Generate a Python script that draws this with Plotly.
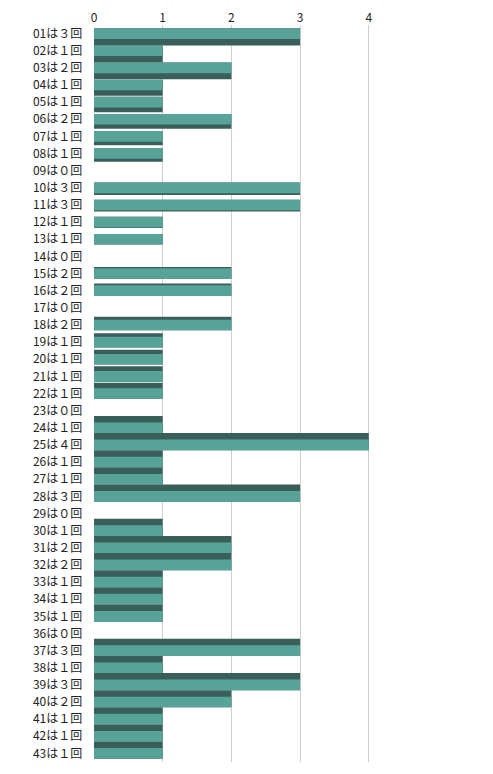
import plotly.graph_objects as go

# dati: numero di estrazioni per numero
numeri = [f'{i:02d}' for i in range(1, 44)]
conteggi = [3, 1, 2, 1, 1, 2, 1, 1, 0, 3,
            3, 1, 1, 0, 2, 2, 0, 2, 1, 1,
            1, 1, 0, 1, 4, 1, 1, 3, 0, 1,
            2, 2, 1, 1, 1, 0, 3, 1, 3, 2,
            1, 1, 1]
tick_vals = [0, 1, 2, 3, 4]

# etichette tipo "01は３回" con cifra a larghezza piena
larga = str.maketrans('0123456789', '０１２３４５６７８９')
etichette = [f'{n}は{str(c).translate(larga)}回' for n, c in zip(numeri, conteggi)]

# finto effetto prospettico: faccia scura sotto in alto, sopra in basso
spessore = 0.62
offs_scuro, larg_scuro = [], []
for i in range(len(conteggi)):
    prof = min(0.38, abs(i - 12) * 0.035)
    if i < 12:
        offs_scuro.append(-spessore / 2)
    else:
        offs_scuro.append(-spessore / 2 - prof)
    larg_scuro.append(spessore + prof)

fig = go.Figure()

# faccia scura (effetto 3D)
fig.add_trace(go.Bar(
    y=etichette, x=conteggi, orientation='h',
    marker=dict(color='#3a5f5b', line=dict(width=0)),
    width=larg_scuro, offset=offs_scuro,
    hoverinfo='skip', showlegend=False
))

# faccia frontale verde acqua
fig.add_trace(go.Bar(
    y=etichette, x=conteggi, orientation='h',
    marker=dict(color='#57a398', line=dict(width=0)),
    width=spessore, offset=-spessore / 2,
    showlegend=False
))

fig.update_layout(
    width=493, height=774,
    margin=dict(l=86, r=12, t=17, b=20),
    paper_bgcolor='white', plot_bgcolor='white',
    barmode='overlay',
    font=dict(family='Noto Sans CJK JP', size=12, color='#222'),
)
fig.update_xaxes(
    side='top', range=[0, 5.75], tickvals=tick_vals, automargin=False,
    showgrid=True, gridcolor='#cfcfcf', gridwidth=1,
    zeroline=False, showline=False, ticks='',
    tickfont=dict(size=12, color='#222')
)
fig.update_yaxes(
    range=[len(etichette) - 0.5, -0.5], showgrid=False, ticks='', showline=False,
    automargin=False, tickfont=dict(size=12, color='#222'), ticksuffix='    '
)

fig.write_html('out.html')
